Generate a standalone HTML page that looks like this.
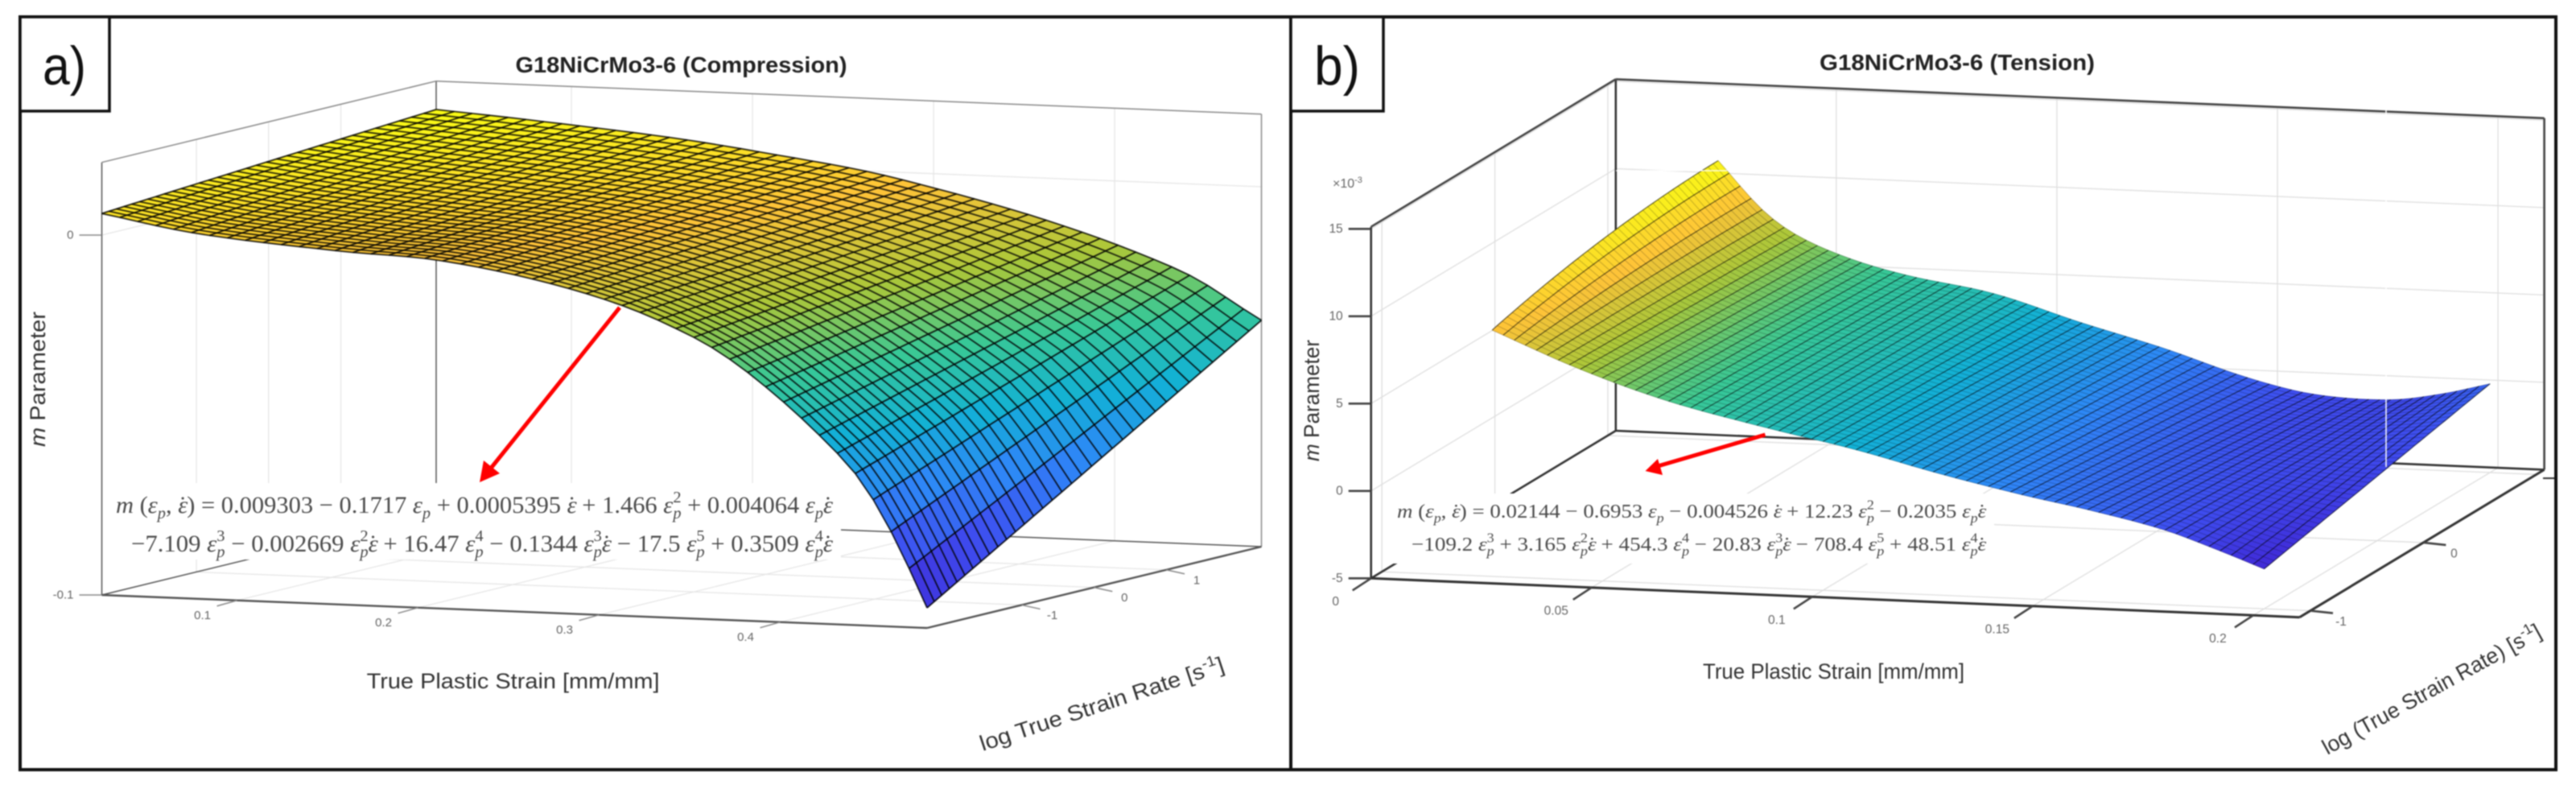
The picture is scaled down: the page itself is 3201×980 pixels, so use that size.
<!DOCTYPE html>
<html lang="en">
<head>
<meta charset="utf-8">
<title>G18NiCrMo3-6 m parameter surfaces</title>
<style>
html,body{margin:0;padding:0;background:#fff;width:3201px;height:980px;overflow:hidden}
svg{position:absolute;left:0;top:0;filter:blur(.7px)}
text{font-family:"Liberation Sans",sans-serif}
.title{font-weight:700;font-size:28px;fill:#222}
.axt{font-size:27px;fill:#333}
.eq,.eq tspan{font-family:"Liberation Serif",serif}
.eq{font-size:30px;fill:#4a4a4a}
.it{font-style:italic}
.sb{font-size:20px}
.sbi{font-size:20px;font-style:italic}
</style>
</head>
<body>
<svg id="fig" width="3201" height="980" viewBox="0 0 3201 980" xmlns="http://www.w3.org/2000/svg">
  <rect x="0" y="0" width="3201" height="980" fill="#fff"/>

  <g id="panelA"></g>
  <g id="panelB"></g>

  <!-- static annotation layer: panel a -->
  <text class="eq" transform="translate(144,637)" textLength="891" lengthAdjust="spacingAndGlyphs"><tspan class="it">m</tspan> (<tspan class="it">ε</tspan><tspan class="sbi" dy="7">p</tspan><tspan dy="-7">, </tspan><tspan class="it">ε</tspan><tspan dx="-11">˙</tspan>) = 0.009303 − 0.1717 <tspan class="it">ε</tspan><tspan class="sbi" dy="7">p</tspan><tspan dy="-7"> + 0.0005395 </tspan><tspan class="it">ε</tspan><tspan dx="-11">˙</tspan> + 1.466 <tspan class="it">ε</tspan><tspan class="sbi" dy="7">p</tspan><tspan class="sb" dx="-10" dy="-20">2</tspan><tspan dy="13"> + 0.004064 </tspan><tspan class="it">ε</tspan><tspan class="sbi" dy="7">p</tspan><tspan class="it" dy="-7">ε</tspan><tspan dx="-11">˙</tspan></text>
  <text class="eq" transform="translate(163,685)" textLength="872" lengthAdjust="spacingAndGlyphs">−7.109 <tspan class="it">ε</tspan><tspan class="sbi" dy="7">p</tspan><tspan class="sb" dx="-10" dy="-20">3</tspan><tspan dy="13"> − 0.002669 </tspan><tspan class="it">ε</tspan><tspan class="sbi" dy="7">p</tspan><tspan class="sb" dx="-10" dy="-20">2</tspan><tspan class="it" dy="13">ε</tspan><tspan dx="-11">˙</tspan> + 16.47 <tspan class="it">ε</tspan><tspan class="sbi" dy="7">p</tspan><tspan class="sb" dx="-10" dy="-20">4</tspan><tspan dy="13"> − 0.1344 </tspan><tspan class="it">ε</tspan><tspan class="sbi" dy="7">p</tspan><tspan class="sb" dx="-10" dy="-20">3</tspan><tspan class="it" dy="13">ε</tspan><tspan dx="-11">˙</tspan> − 17.5 <tspan class="it">ε</tspan><tspan class="sbi" dy="7">p</tspan><tspan class="sb" dx="-10" dy="-20">5</tspan><tspan dy="13"> + 0.3509 </tspan><tspan class="it">ε</tspan><tspan class="sbi" dy="7">p</tspan><tspan class="sb" dx="-10" dy="-20">4</tspan><tspan class="it" dy="13">ε</tspan><tspan dx="-11">˙</tspan></text>

  <g>
    <line x1="770" y1="382" x2="608" y2="584" stroke="#f00" stroke-width="5"/>
    <polygon points="596,599 601,572 621,588" fill="#f00"/>
  </g>

  <text class="title" x="640.5" y="90" textLength="412" lengthAdjust="spacingAndGlyphs">G18NiCrMo3-6 (Compression)</text>
  <text class="axt" x="455.6" y="855" textLength="364" lengthAdjust="spacingAndGlyphs">True Plastic Strain [mm/mm]</text>
  <text class="axt" transform="translate(1221,933) rotate(-18.3)" textLength="318" lengthAdjust="spacingAndGlyphs">log True Strain Rate [s<tspan font-size="18" dy="-11">-1</tspan><tspan dy="11">]</tspan></text>
  <text class="axt" transform="translate(56,555) rotate(-90)" textLength="168" lengthAdjust="spacingAndGlyphs"><tspan class="it">m</tspan> Parameter</text>

  <!-- static annotation layer: panel b -->
  <text class="eq" transform="translate(1736,643) scale(.82)" textLength="893" lengthAdjust="spacingAndGlyphs"><tspan class="it">m</tspan> (<tspan class="it">ε</tspan><tspan class="sbi" dy="7">p</tspan><tspan dy="-7">, </tspan><tspan class="it">ε</tspan><tspan dx="-11">˙</tspan>) = 0.02144 − 0.6953 <tspan class="it">ε</tspan><tspan class="sbi" dy="7">p</tspan><tspan dy="-7"> − 0.004526 </tspan><tspan class="it">ε</tspan><tspan dx="-11">˙</tspan> + 12.23 <tspan class="it">ε</tspan><tspan class="sbi" dy="7">p</tspan><tspan class="sb" dx="-10" dy="-20">2</tspan><tspan dy="13"> − 0.2035 </tspan><tspan class="it">ε</tspan><tspan class="sbi" dy="7">p</tspan><tspan class="it" dy="-7">ε</tspan><tspan dx="-11">˙</tspan></text>
  <text class="eq" transform="translate(1754,684) scale(.82)" textLength="871" lengthAdjust="spacingAndGlyphs">−109.2 <tspan class="it">ε</tspan><tspan class="sbi" dy="7">p</tspan><tspan class="sb" dx="-10" dy="-20">3</tspan><tspan dy="13"> + 3.165 </tspan><tspan class="it">ε</tspan><tspan class="sbi" dy="7">p</tspan><tspan class="sb" dx="-10" dy="-20">2</tspan><tspan class="it" dy="13">ε</tspan><tspan dx="-11">˙</tspan> + 454.3 <tspan class="it">ε</tspan><tspan class="sbi" dy="7">p</tspan><tspan class="sb" dx="-10" dy="-20">4</tspan><tspan dy="13"> − 20.83 </tspan><tspan class="it">ε</tspan><tspan class="sbi" dy="7">p</tspan><tspan class="sb" dx="-10" dy="-20">3</tspan><tspan class="it" dy="13">ε</tspan><tspan dx="-11">˙</tspan> − 708.4 <tspan class="it">ε</tspan><tspan class="sbi" dy="7">p</tspan><tspan class="sb" dx="-10" dy="-20">5</tspan><tspan dy="13"> + 48.51 </tspan><tspan class="it">ε</tspan><tspan class="sbi" dy="7">p</tspan><tspan class="sb" dx="-10" dy="-20">4</tspan><tspan class="it" dy="13">ε</tspan><tspan dx="-11">˙</tspan></text>

  <g>
    <line x1="2193.5" y1="540" x2="2060" y2="579" stroke="#f00" stroke-width="5"/>
    <polygon points="2044.5,585 2060,570 2066,590" fill="#f00"/>
  </g>

  <line x1="2965" y1="136" x2="2965" y2="580" stroke="#fff" stroke-width="1.5"/>
  <line x1="2008" y1="212" x2="2146" y2="212" stroke="#fff" stroke-width="1.2"/>
  <line x1="3160" y1="594" x2="3176" y2="594" stroke="#333" stroke-width="2"/>

  <text class="title" x="2261" y="87" textLength="342" lengthAdjust="spacingAndGlyphs">G18NiCrMo3-6 (Tension)</text>
  <text class="axt" x="2116" y="843" textLength="325" lengthAdjust="spacingAndGlyphs">True Plastic Strain [mm/mm]</text>
  <text class="axt" transform="translate(2892,938) rotate(-28.9)" textLength="306" lengthAdjust="spacingAndGlyphs">log (True Strain Rate) [s<tspan font-size="18" dy="-11">-1</tspan><tspan dy="11">]</tspan></text>
  <text class="axt" transform="translate(1639,573) rotate(-90)" textLength="151" lengthAdjust="spacingAndGlyphs"><tspan class="it">m</tspan> Parameter</text>
  <text x="1656" y="233" font-size="16" fill="#666">×10<tspan font-size="11" dy="-6">-3</tspan></text>

  <!-- frames and panel tags -->
  <rect x="25" y="21" width="1579" height="935" fill="none" stroke="#111" stroke-width="4"/>
  <rect x="1604" y="21" width="1572" height="935" fill="none" stroke="#111" stroke-width="4"/>
  <rect x="25" y="21" width="111" height="117" fill="#fff" stroke="#111" stroke-width="3.5"/>
  <text x="53" y="105" font-size="68" fill="#111" textLength="54" lengthAdjust="spacingAndGlyphs">a)</text>
  <rect x="1604" y="21" width="115" height="117" fill="#fff" stroke="#111" stroke-width="3.5"/>
  <text x="1633" y="105" font-size="68" fill="#111" textLength="57" lengthAdjust="spacingAndGlyphs">b)</text>
</svg>

<script>
/* Values below are estimates at a coarse set of knots.
   The visible mesh resamples these knots smoothly at the original mesh density. */

/* Panel a: compression */
const compStrain = [0.0253, 0.078, 0.157, 0.21, 0.264, 0.311, 0.347, 0.37, 0.397, 0.4245, 0.4445, 0.4605, 0.472, 0.4811];
const compRate = [-2.31, 0, 2.32];
const compMAtLowRate = [0.006, 0.0015, -0.0018, -0.0032, -0.0075, -0.0135, -0.0206, -0.0268, -0.0368, -0.049, -0.0598, -0.0729, -0.0845, -0.0944];
const compMAtMidRate = [0.0092, 0.006, 0.0026, 0.0003, -0.0038, -0.0094, -0.0151, -0.0198, -0.0269, -0.0355, -0.043, -0.0518, -0.0595, -0.0658];
const compMAtHighRate = [0.0123, 0.0104, 0.007, 0.0037, -0.0002, -0.0052, -0.0096, -0.0128, -0.017, -0.0219, -0.0261, -0.0308, -0.0344, -0.0371];
const compXTicks = [0.1, 0.2, 0.3, 0.4];
const compXTickLabels = ['0.1', '0.2', '0.3', '0.4'];
const compYTicks = [-1, 0, 1];
const compYTickLabels = ['-1', '0', '1'];
const compZTicks = [-0.1, 0];
const compZTickLabels = ['-0.1', '0'];

/* Panel b: tension (m in units of 10^-3) */
const tensStrain = [0.025, 0.035, 0.043, 0.055, 0.068, 0.0875, 0.107, 0.126, 0.145, 0.16, 0.177, 0.189, 0.2];
const tensRate = [-1, 0, 1];
const tensMAtLowRate = [9.1, 8.05, 7.25, 6.2, 5.25, 4.15, 3.15, 1.98, 0.95, 0.25, -0.7, -1.7, -2.72];
const tensMAtMidRate = [10.5, 8.3, 7.08, 5.95, 5.07, 4.1, 2.88, 1.65, 0.4, -0.35, -0.89, -1.16, -1.32];
const tensMAtHighRate = [11.0, 8.3, 6.9, 5.7, 4.88, 4.05, 2.62, 1.33, -0.15, -0.94, -1.08, -0.62, 0.08];
const tensXTicks = [0, 0.05, 0.1, 0.15, 0.2];
const tensXTickLabels = ['0', '0.05', '0.1', '0.15', '0.2'];
const tensYTicks = [-1, 0, 1];
const tensYTickLabels = ['-1', '0', ''];
const tensZTicks = [-5, 0, 5, 10, 15];
const tensZTickLabels = ['-5', '0', '5', '10', '15'];

const SVGNS = 'http://www.w3.org/2000/svg';
const PARULA = [[64,40,214],[62,78,240],[46,135,247],[18,177,214],[55,200,151],[171,199,57],[254,195,56],[249,251,21]];

function parula(t) {
  const c = Math.max(0, Math.min(0.9999, t)) * (PARULA.length - 1);
  const k = Math.floor(c), f = c - k;
  const a = PARULA[k], b = PARULA[k + 1];
  return 'rgb(' + a.map((v, n) => Math.round(v + (b[n] - v) * f)).join(',') + ')';
}

function knotIndex(knots, value) {
  let k = 0;
  while (k < knots.length - 2 && value > knots[k + 1]) k++;
  return k;
}

/* smooth curve through one row of read values */
function smoothAt(knots, vals, x) {
  const n = knots.length;
  const i = knotIndex(knots, x);
  const h = knots[i + 1] - knots[i];
  const slope = k => {
    if (k === 0) return (vals[1] - vals[0]) / (knots[1] - knots[0]);
    if (k === n - 1) return (vals[n - 1] - vals[n - 2]) / (knots[n - 1] - knots[n - 2]);
    return (vals[k + 1] - vals[k - 1]) / (knots[k + 1] - knots[k - 1]);
  };
  const t = (x - knots[i]) / h;
  const t2 = t * t, t3 = t2 * t;
  return (2 * t3 - 3 * t2 + 1) * vals[i] + (t3 - 2 * t2 + t) * h * slope(i)
       + (-2 * t3 + 3 * t2) * vals[i + 1] + (t3 - t2) * h * slope(i + 1);
}

function drawLine(parent, p, q, color, width, name) {
  const el = document.createElementNS(SVGNS, 'line');
  el.setAttribute('x1', p[0]);
  el.setAttribute('y1', p[1]);
  el.setAttribute('x2', q[0]);
  el.setAttribute('y2', q[1]);
  el.setAttribute('stroke', color);
  el.setAttribute('stroke-width', width);
  
  
  parent.appendChild(el);
}

function drawLabel(parent, x, y, str, anchor, size, name) {
  const el = document.createElementNS(SVGNS, 'text');
  el.setAttribute('x', x);
  el.setAttribute('y', y);
  el.setAttribute('text-anchor', anchor);
  el.setAttribute('dominant-baseline', 'central');
  el.setAttribute('font-size', size);
  el.setAttribute('fill', '#666');
  
  
  el.textContent = str;
  parent.appendChild(el);
}

function drawPanel(host, g, data) {
  const xScale = x => (x - g.xMin) / (g.xMax - g.xMin);
  const yScale = y => (y - g.yMin) / (g.yMax - g.yMin);
  const project = (x, y, z) => {
    const u = xScale(x), v = yScale(y);
    return [g.ox + g.ux * u + g.vx * v, g.oy + g.uy * u + g.vy * v - (z - g.zMin) * g.zPx];
  };

  /* grid lines on the walls and floor */
  const grid = document.createElementNS(SVGNS, 'g');
  
  
  host.appendChild(grid);
  data.xTicks.forEach(x => {
    drawLine(grid, project(x, g.yMax, g.zMin), project(x, g.yMax, g.zMax), g.gridColor, 1.3, 'gridline-x-wall');
    drawLine(grid, project(x, g.yMin, g.zMin), project(x, g.yMax, g.zMin), g.gridColor, 1.3, 'gridline-x-floor');
  });
  data.yTicks.forEach(y => {
    drawLine(grid, project(g.xMin, y, g.zMin), project(g.xMin, y, g.zMax), g.gridColor, 1.3, 'gridline-y-wall');
    drawLine(grid, project(g.xMin, y, g.zMin), project(g.xMax, y, g.zMin), g.gridColor, 1.3, 'gridline-y-floor');
  });
  data.zTicks.forEach(z => {
    drawLine(grid, project(g.xMin, g.yMin, z), project(g.xMin, g.yMax, z), g.gridColor, 1.3, 'gridline-z-left-wall');
    drawLine(grid, project(g.xMin, g.yMax, z), project(g.xMax, g.yMax, z), g.gridColor, 1.3, 'gridline-z-back-wall');
  });

  /* axis box */
  const box = document.createElementNS(SVGNS, 'g');
  
  
  host.appendChild(box);
  const c = (x, y, z) => project(x, y, z);
  drawLine(box, c(g.xMin, g.yMin, g.zMin), c(g.xMin, g.yMin, g.zMax), g.axisDark, g.axisW, 'axis-edge-front-vertical');
  drawLine(box, c(g.xMin, g.yMax, g.zMin), c(g.xMin, g.yMax, g.zMax), g.axisDark, g.axisW, 'axis-edge-back-vertical');
  drawLine(box, c(g.xMax, g.yMax, g.zMin), c(g.xMax, g.yMax, g.zMax), g.axisLight, g.axisW, 'axis-edge-right-vertical');
  drawLine(box, c(g.xMin, g.yMin, g.zMax), c(g.xMin, g.yMax, g.zMax), g.axisLight, g.axisW, 'axis-edge-top-left');
  drawLine(box, c(g.xMin, g.yMax, g.zMax), c(g.xMax, g.yMax, g.zMax), g.axisLight, g.axisW, 'axis-edge-top-back');
  drawLine(box, c(g.xMin, g.yMin, g.zMin), c(g.xMin, g.yMax, g.zMin), g.axisDark, g.axisW, 'axis-edge-floor-left');
  drawLine(box, c(g.xMin, g.yMax, g.zMin), c(g.xMax, g.yMax, g.zMin), g.axisDark, g.axisW, 'axis-edge-floor-back');

  /* white plate behind the printed equation */
  const plate = document.createElementNS(SVGNS, 'rect');
  plate.setAttribute('x', g.plateX);
  plate.setAttribute('y', g.plateY);
  plate.setAttribute('width', g.plateW);
  plate.setAttribute('height', g.plateH);
  plate.setAttribute('fill', '#fff');
  
  
  host.appendChild(plate);

  /* front floor axes and ticks sit on top of the plate */
  drawLine(host, c(g.xMin, g.yMin, g.zMin), c(g.xMax, g.yMin, g.zMin), g.axisDark, g.floorW, 'x-axis-line');
  drawLine(host, c(g.xMax, g.yMin, g.zMin), c(g.xMax, g.yMax, g.zMin), g.axisDark, g.floorW, 'y-axis-line');

  data.xTicks.forEach((x, n) => {
    const p = project(x, g.yMin, g.zMin);
    drawLine(host, p, [p[0] + g.xTickDx, p[1] + g.xTickDy], g.tickColor, g.tickW, 'x-tick');
    drawLabel(host, p[0] + g.xLabDx, p[1] + g.xLabDy, data.xLabels[n], 'middle', g.tickFont, 'x-tick-label');
  });
  data.yTicks.forEach((y, n) => {
    if (!data.yLabels[n]) return;
    const p = project(g.xMax, y, g.zMin);
    drawLine(host, p, [p[0] + g.yTickDx, p[1] + g.yTickDy], g.tickColor, g.tickW, 'y-tick');
    drawLabel(host, p[0] + g.yLabDx, p[1] + g.yLabDy, data.yLabels[n], 'middle', g.tickFont, 'y-tick-label');
  });
  data.zTicks.forEach((z, n) => {
    const p = project(g.xMin, g.yMin, z);
    drawLine(host, p, [p[0] - 28, p[1]], g.tickColor, g.tickW, 'z-tick');
    drawLabel(host, p[0] - 35, p[1], data.zLabels[n], 'end', g.tickFont, 'z-tick-label');
  });

  /* surface */
  const zAt = (x, y) => {
    const r = data.rate;
    let total = 0;
    for (let a = 0; a < r.length; a++) {
      let w = 1;
      for (let b = 0; b < r.length; b++) {
        if (b !== a) w *= (y - r[b]) / (r[a] - r[b]);
      }
      total += w * smoothAt(data.strain, data.rows[a], x);
    }
    return total;
  };
  const all = data.rows.flat();
  const zLo = Math.min(...all), zHi = Math.max(...all);
  const x0 = data.strain[0], x1 = data.strain[data.strain.length - 1];
  const y0 = data.rate[0], y1 = data.rate[data.rate.length - 1];
  const pts = [];
  const zs = [];
  for (let j = 0; j <= g.ny; j++) {
    pts.push([]);
    zs.push([]);
    const t = j / g.ny;
    const y = y0 + (y1 - y0) * (g.yGrade * t + (1 - g.yGrade) * t * t);
    for (let i = 0; i <= g.nx; i++) {
      const x = x0 + (x1 - x0) * i / g.nx;
      const z = zAt(x, y);
      zs[j].push(z);
      pts[j].push(project(x, y, z).map(v => v.toFixed(1)).join(','));
    }
  }
  const surf = document.createElementNS(SVGNS, 'g');
  
  
  host.appendChild(surf);
  for (let j = g.ny - 1; j >= 0; j--) {
    for (let i = 0; i < g.nx; i++) {
      const cell = document.createElementNS(SVGNS, 'polygon');
      const zm = (zs[j][i] + zs[j][i + 1] + zs[j + 1][i] + zs[j + 1][i + 1]) / 4;
      const col = parula((zm - zLo) / (zHi - zLo));
      cell.setAttribute('points', pts[j][i] + ' ' + pts[j][i + 1] + ' ' + pts[j + 1][i + 1] + ' ' + pts[j + 1][i]);
      cell.setAttribute('fill', col);
      cell.setAttribute('stroke', col);
      cell.setAttribute('stroke-width', '0.5');
      
      
      surf.appendChild(cell);
    }
  }
  for (let j = 0; j <= g.ny; j++) {
    const ln = document.createElementNS(SVGNS, 'polyline');
    ln.setAttribute('points', pts[j].join(' '));
    ln.setAttribute('fill', 'none');
    ln.setAttribute('stroke', '#000');
    ln.setAttribute('stroke-width', g.meshW);
    ln.setAttribute('stroke-opacity', g.alongStrainAlpha);
    
    
    surf.appendChild(ln);
  }
  for (let i = 0; i <= g.nx; i++) {
    const ln = document.createElementNS(SVGNS, 'polyline');
    ln.setAttribute('points', pts.map(row => row[i]).join(' '));
    ln.setAttribute('fill', 'none');
    ln.setAttribute('stroke', '#000');
    ln.setAttribute('stroke-width', g.meshW);
    ln.setAttribute('stroke-opacity', g.alongRateAlpha);
    
    
    surf.appendChild(ln);
  }
}

drawPanel(document.getElementById('panelA'), {
  ox: 126.5, oy: 739, ux: 1025.5, uy: 41, vx: 415.5, vy: -101, zPx: 4470,
  xMin: 0.0253, xMax: 0.4811, yMin: -2.31, yMax: 2.32, zMin: -0.1, zMax: 0.0202,
  gridColor: '#e6e6e6', axisDark: '#555', axisLight: '#888', axisW: 1.5, floorW: 2.4,
  tickColor: '#888', tickW: 1.5, tickFont: 15,
  xTickDx: -25, xTickDy: 7, yTickDx: 23, yTickDy: 5,
  xLabDx: -43, xLabDy: 19, yLabDx: 38, yLabDy: 13,
  plateX: 132, plateY: 600, plateW: 913, plateH: 95,
  nx: 46, ny: 34, yGrade: 0.73, meshW: 1.8, alongStrainAlpha: 0.82, alongRateAlpha: 0.85
}, {
  strain: compStrain, rate: compRate,
  rows: [compMAtLowRate, compMAtMidRate, compMAtHighRate],
  xTicks: compXTicks, xLabels: compXTickLabels,
  yTicks: compYTicks, yLabels: compYTickLabels,
  zTicks: compZTicks, zLabels: compZTickLabels
});

drawPanel(document.getElementById('panelB'), {
  ox: 1703.7, oy: 718.3, ux: 1153.8, uy: 48.4, vx: 304.1, vy: -183.3, zPx: 21.7,
  xMin: 0, xMax: 0.2105, yMin: -1.096, yMax: 1.07, zMin: -5, zMax: 15.12,
  gridColor: '#dedede', axisDark: '#333', axisLight: '#444', axisW: 2.6, floorW: 3,
  tickColor: '#444', tickW: 2.6, tickFont: 15.5,
  xTickDx: -23, xTickDy: 15, yTickDx: 28, yTickDy: 3,
  xLabDx: -44, xLabDy: 29, yLabDx: 38, yLabDy: 14,
  plateX: 1718, plateY: 613, plateW: 760, plateH: 87,
  nx: 70, ny: 45, yGrade: 1, meshW: 1, alongStrainAlpha: 0.22, alongRateAlpha: 0.7
}, {
  strain: tensStrain, rate: tensRate,
  rows: [tensMAtLowRate, tensMAtMidRate, tensMAtHighRate],
  xTicks: tensXTicks, xLabels: tensXTickLabels,
  yTicks: tensYTicks, yLabels: tensYTickLabels,
  zTicks: tensZTicks, zLabels: tensZTickLabels
});
</script>
</body>
</html>
